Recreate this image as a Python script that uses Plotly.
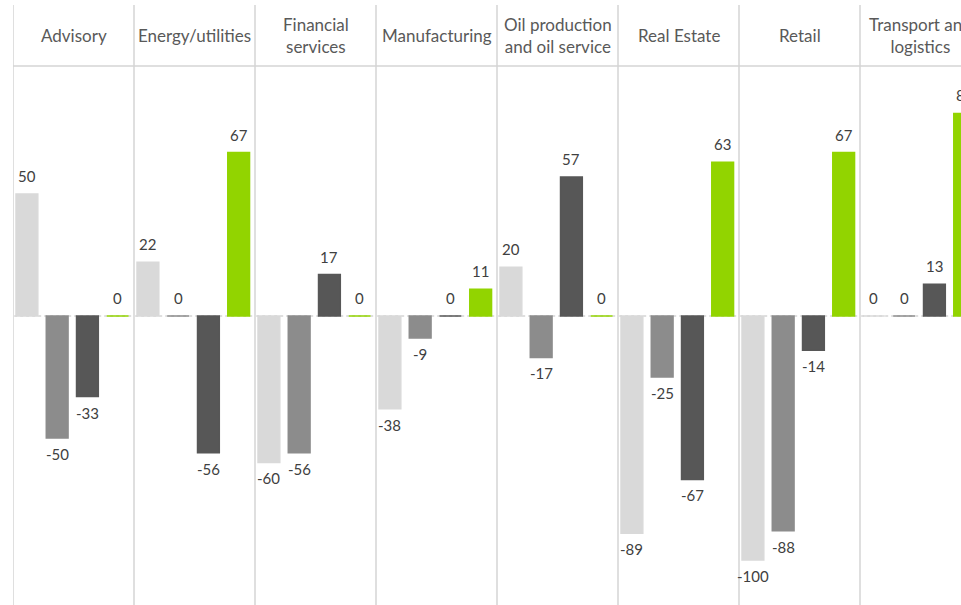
import plotly.graph_objects as go

categories = ["Advisory", "Energy/utilities", "Financial<br>services", "Manufacturing",
              "Oil production<br>and oil service", "Real Estate", "Retail", "Transport and<br>logistics"]
series_names = ["Series 1", "Series 2", "Series 3", "Series 4"]
s1 = [50, 22, -60, -38, 20, -89, -100, 0]
s2 = [-50, 0, -56, -9, -17, -25, -88, 0]
s3 = [-33, -56, 17, 0, 57, -67, -14, 13]
s4 = [0, 67, 0, 11, 0, 63, 67, 83]
colors = ["#d9d9d9", "#8c8c8c", "#575757", "#92d400"]

W, H = 961, 605
L = 13
panel_px = 121
zero_px = 316
px_per_unit = 2.44

xmax = (W - L) / panel_px
ymax = zero_px / px_per_unit
ymin = -(H - zero_px) / px_per_unit

def py(p):
    return 1 - p / H

fig = go.Figure()
annotations = []
for j, (name, vals) in enumerate(zip(series_names, [s1, s2, s3, s4])):
    xs = [i + 0.115 + 0.25 * j for i in range(len(categories))]
    fig.add_trace(go.Bar(
        x=xs, y=vals, name=name, width=0.18,
        marker=dict(color=colors[j], line=dict(color=colors[j], width=1.5)),
        cliponaxis=False, showlegend=False, hoverinfo="skip",
    ))
    for x, v in zip(xs, vals):
        # x given as a fraction of the x-axis range so labels near the edge stay visible
        annotations.append(dict(
            x=x / xmax, y=v, xref="paper", yref="y", text=str(v), showarrow=False,
            font=dict(family="Lato", size=15, color="#404040"),
            xanchor="center", yanchor="bottom" if v >= 0 else "top",
            yshift=7 if v >= 0 else -5,
        ))

shapes = []
n = len(categories)
for i in range(n + 1):
    shapes.append(dict(type="line", xref="x", yref="paper", x0=i, x1=i,
                       y0=0, y1=py(5), line=dict(color="#d4d4d4", width=1.5), layer="below"))
shapes.append(dict(type="line", xref="x", yref="paper", x0=0, x1=xmax,
                   y0=py(66), y1=py(66), line=dict(color="#d4d4d4", width=1.5), layer="below"))
for i in range(n):
    shapes.append(dict(type="line", xref="x", yref="y", x0=i + 0.01, x1=i + 0.99,
                       y0=0, y1=0, line=dict(color="#bfbfbf", width=1, dash="dot"), layer="below"))

for i, c in enumerate(categories):
    annotations.append(dict(x=i + 0.5, y=py(35), xref="x", yref="paper", text=c,
                            showarrow=False, font=dict(family="Lato", size=17, color="#595959"),
                            xanchor="center", yanchor="middle", align="center"))

fig.update_layout(
    width=W, height=H,
    margin=dict(l=L, r=0, t=0, b=0),
    paper_bgcolor="white", plot_bgcolor="white",
    barmode="overlay",
    xaxis=dict(range=[0, xmax], visible=False, fixedrange=True),
    yaxis=dict(range=[ymin, ymax], visible=False, fixedrange=True),
    shapes=shapes, annotations=annotations,
)
fig.write_html("out.html", config={"displayModeBar": False},
               post_script="document.body.style.margin='0';document.body.style.overflow='hidden';")
